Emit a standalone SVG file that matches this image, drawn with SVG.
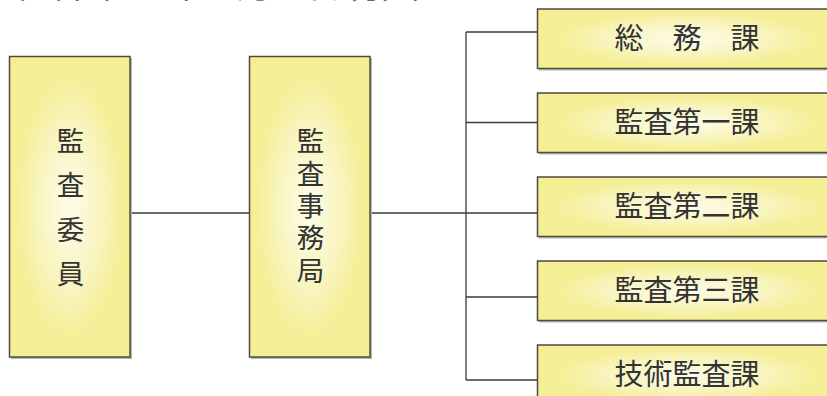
<svg xmlns="http://www.w3.org/2000/svg" width="827" height="396" viewBox="0 0 827 396">
<style>
.box{stroke:#4d4b40;stroke-width:1.5}
.sh{fill:#b8b8b0}
.t{font-family:"Noto Sans CJK JP","Noto Sans",sans-serif;font-size:29px;fill:#333;text-anchor:middle}
.v{font-family:"Noto Sans CJK JP","Noto Sans",sans-serif;font-size:27.5px;fill:#333;writing-mode:vertical-rl}
.hd{font-family:"Noto Sans CJK JP","Noto Sans",sans-serif;font-size:35px;fill:#666}
.ln{stroke:#3a3a3a;stroke-width:1.3;fill:none}
</style>
<defs>
<radialGradient id="g" cx="0.5" cy="0.5" r="0.5">
<stop offset="0" stop-color="#fdfcea"/>
<stop offset="0.55" stop-color="#f8f4bd"/>
<stop offset="0.85" stop-color="#f5ef9a"/>
<stop offset="1" stop-color="#f4ee94"/>
</radialGradient>
</defs>
<text class="hd" x="-8" y="-2.5">図（令和２年４月１日現在）</text>
<g id="connectors">
<path class="ln" d="M130 213H249M370 213H537M466 32V380M466 32H537M466 122.5H537M466 297H537M466 380H537"/>
</g>
<g id="n1">
<rect class="sh" x="11" y="58" width="121" height="301"/>
<rect class="box" x="9.5" y="56.5" width="120.5" height="300.5" fill="url(#g)"/>
<text class="v" x="70.5" y="127" letter-spacing="16.8">監査委員</text>
</g>
<g id="n2">
<rect class="sh" x="251" y="58" width="121" height="301"/>
<rect class="box" x="249.5" y="56.5" width="120.5" height="300.5" fill="url(#g)"/>
<text class="v" x="310.5" y="127" letter-spacing="4.9">監査事務局</text>
</g>
<g id="n3">
<rect class="sh" x="539" y="10.5" width="300" height="60"/>
<rect class="box" x="537.5" y="9" width="300" height="59.5" fill="url(#g)"/>
<text class="t" x="687" y="49">総　務　課</text>
</g>
<g id="n4">
<rect class="sh" x="539" y="94.5" width="300" height="60"/>
<rect class="box" x="537.5" y="93" width="300" height="59.5" fill="url(#g)"/>
<text class="t" x="687" y="133">監査第一課</text>
</g>
<g id="n5">
<rect class="sh" x="539" y="178.5" width="300" height="60"/>
<rect class="box" x="537.5" y="177" width="300" height="59.5" fill="url(#g)"/>
<text class="t" x="687" y="217">監査第二課</text>
</g>
<g id="n6">
<rect class="sh" x="539" y="262.5" width="300" height="60"/>
<rect class="box" x="537.5" y="261" width="300" height="59.5" fill="url(#g)"/>
<text class="t" x="687" y="301">監査第三課</text>
</g>
<g id="n7">
<rect class="sh" x="539" y="346.5" width="300" height="60"/>
<rect class="box" x="537.5" y="345" width="300" height="59.5" fill="url(#g)"/>
<text class="t" x="687" y="385">技術監査課</text>
</g>
</svg>
